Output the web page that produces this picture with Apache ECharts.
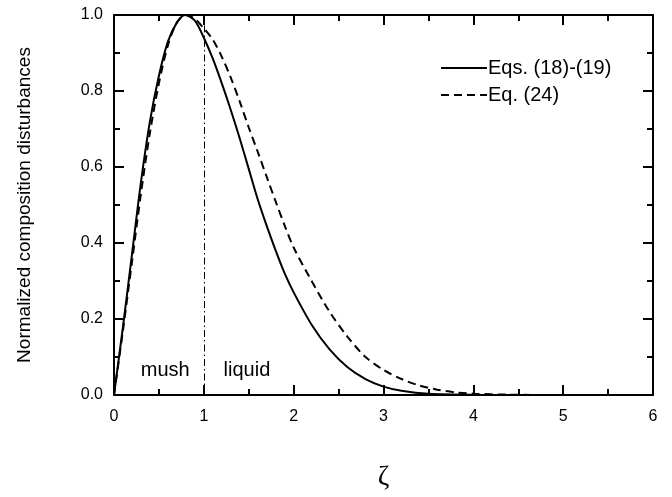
<!DOCTYPE html>
<html><head><meta charset="utf-8">
<script src="https://cdn.jsdelivr.net/npm/echarts@6/dist/echarts.min.js"></script>
<style>html,body{margin:0;padding:0;background:#fff}#c{width:672px;height:497px}</style>
</head><body><div id="c"></div>
<script>
const seriesNames = ["Eqs. (18)-(19)", "Eq. (24)"];
const zetaSolid = [0,0.05,0.1,0.2,0.3,0.4,0.5,0.6,0.7,0.79,0.9,1.0,1.1,1.2,1.3,1.4,1.5,1.6,1.7,1.8,1.9,2.0,2.2,2.4,2.6,2.8,3.0,3.2,3.5,4.0];
const valSolid  = [0,0.09,0.18,0.37,0.56,0.72,0.84,0.93,0.98,1.0,0.985,0.94,0.885,0.82,0.75,0.675,0.595,0.515,0.445,0.38,0.32,0.27,0.185,0.12,0.073,0.042,0.022,0.011,0.003,0.0005];
const zetaDash  = [0,0.1,0.2,0.3,0.4,0.5,0.6,0.7,0.8,0.9,1.0,1.1,1.2,1.3,1.4,1.5,1.6,1.7,1.8,1.9,2.0,2.2,2.4,2.6,2.8,3.0,3.2,3.4,3.6,3.8,4.0,4.4,4.7];
const valDash   = [0,0.17,0.35,0.53,0.69,0.82,0.92,0.98,1.0,0.99,0.965,0.935,0.89,0.835,0.772,0.704,0.64,0.574,0.509,0.446,0.388,0.30,0.219,0.153,0.10,0.066,0.042,0.025,0.014,0.007,0.0035,0.001,0.0];
const xTicks = [0,1,2,3,4,5,6];
const yTicks = [0,0.2,0.4,0.6,0.8,1.0];
const boundaryZeta = 1;
const regionLabels = [{text:"mush", z:0.57, v:0.065},{text:"liquid", z:1.48, v:0.065}];

const pairs = (xs, ys) => xs.map((x,i)=>[x, ys[i]]);
const font = "Liberation Sans, Arial, sans-serif";
function frame(extra, lineExtra){
  return Object.assign({
    type:'value', z:10, zlevel:0,
    axisLine:Object.assign({show:true, lineStyle:{color:'#000', width:2}}, lineExtra||{}),
    axisTick:{show:true, inside:true, length:10, lineStyle:{color:'#000', width:2}},
    minorTick:{show:true, splitNumber:2, length:6, lineStyle:{color:'#000', width:2}},
    splitLine:{show:false}, minorSplitLine:{show:false}
  }, extra);
}
const chart = echarts.init(document.getElementById('c'));
chart.setOption({
  animation:false,
  grid:{show:false, left:114, right:19, top:15, bottom:83, backgroundColor:'transparent'},
  legend:{
    orient:'vertical', left:435, top:53, itemWidth:46, itemHeight:14, itemGap:7,
    itemStyle:{color:'transparent', borderColor:'transparent', borderWidth:0},
    textStyle:{fontFamily:font, fontSize:20, color:'#000', lineHeight:20, padding:[0,0,0,-4]},
    data:seriesNames
  },
  xAxis:[
    frame({min:0, max:6, interval:1, position:'bottom',
      name:'ζ', nameLocation:'middle', nameGap:69,
      nameTextStyle:{fontFamily:'Liberation Serif, serif', fontSize:28, color:'#000'},
      axisLabel:{fontFamily:font, fontSize:16, color:'#000', margin:14,
        formatter:v=>xTicks.includes(v)?String(v):''}}, {onZero:false}),
    frame({min:0, max:6, interval:1, position:'top', axisLabel:{show:false}}, {onZero:false})
  ],
  yAxis:[
    frame({min:0, max:1, interval:0.2, position:'left',
      name:'Normalized composition disturbances', nameLocation:'middle', nameGap:80,
      nameTextStyle:{fontFamily:font, fontSize:19, color:'#000'},
      axisLabel:{fontFamily:font, fontSize:16, color:'#000', margin:11,
        formatter:v=>v.toFixed(1)}}, {onZero:false}),
    frame({min:0, max:1, interval:0.2, position:'right', axisLabel:{show:false}}, {onZero:false})
  ],
  series:[
    {name:seriesNames[0], type:'line', z:3, data:pairs(zetaSolid,valSolid), smooth:0.3, symbol:'none',
     lineStyle:{color:'#000', width:2, type:'solid'}, itemStyle:{color:'#000'},
     markLine:{silent:true, symbol:'none', label:{show:false},
       lineStyle:{color:'#000', width:1, type:[7,3,1.5,3]},
       data:[[{coord:[boundaryZeta,0]},{coord:[boundaryZeta,1]}]]}},
    {name:seriesNames[1], type:'line', z:3, data:pairs(zetaDash,valDash), smooth:0.3, symbol:'none',
     lineStyle:{color:'#000', width:2, type:[8,5]}, itemStyle:{color:'#000'},
     markPoint:{silent:true, symbol:'circle', symbolSize:0,
       label:{show:true, position:'inside', fontFamily:font, fontSize:20, color:'#000',
         formatter:p=>p.name},
       data:regionLabels.map(r=>({name:r.text, coord:[r.z, r.v]}))}}
  ]
});
</script></body></html>
